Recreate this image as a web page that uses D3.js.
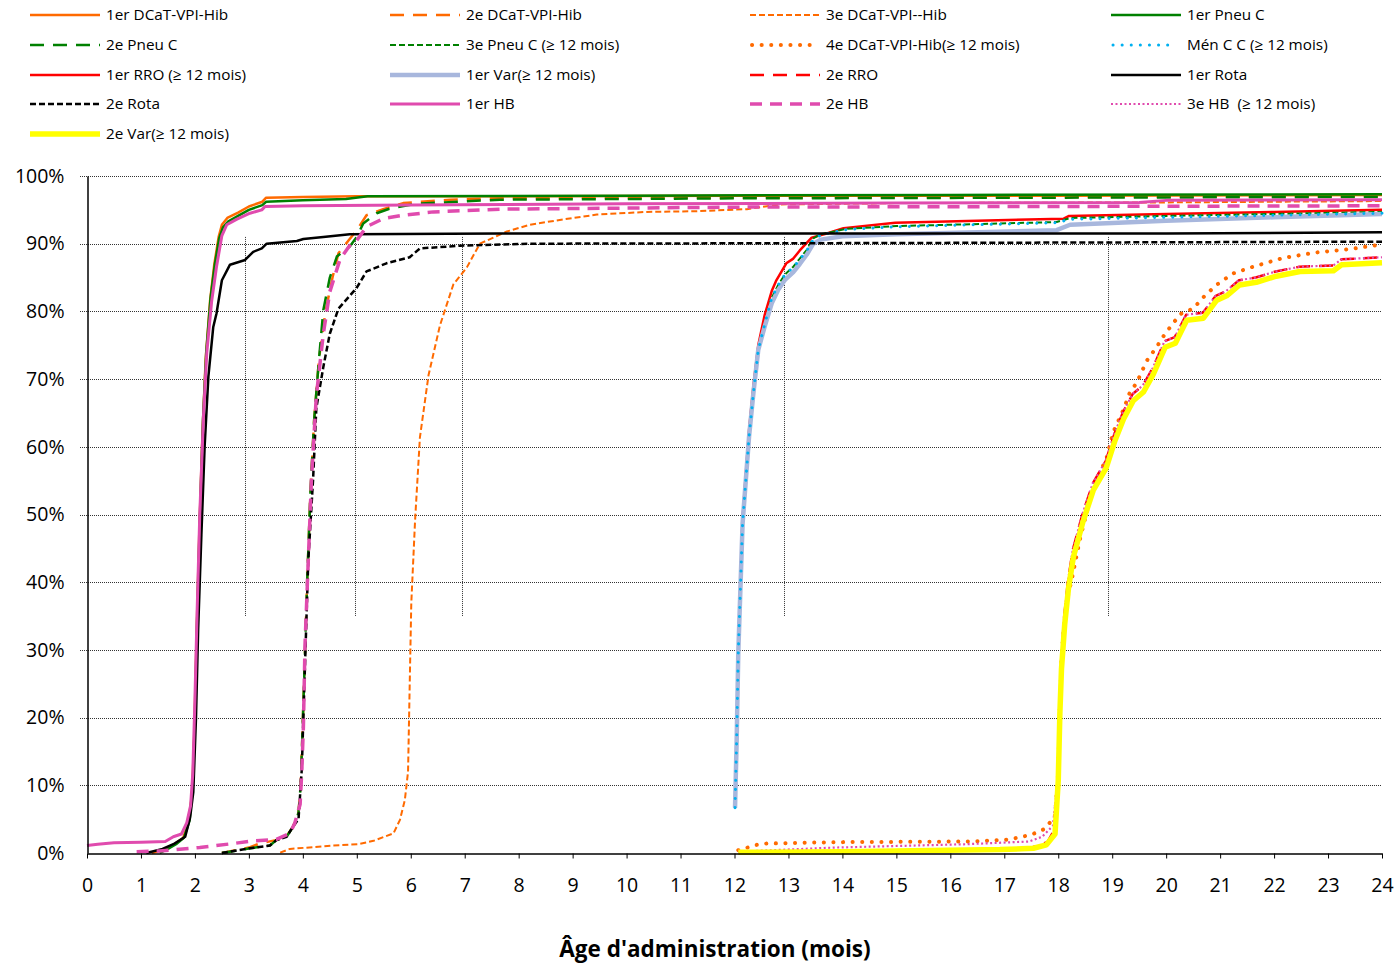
<!DOCTYPE html>
<html><head><meta charset="utf-8">
<script src="https://cdn.jsdelivr.net/npm/d3@7"></script>
<style>body{margin:0;background:#fff}svg{display:block;font-family:"Open Sans","Noto Sans",sans-serif}</style>
</head><body><svg id="c" width="1398" height="966"></svg>
<script>
// ---------- data ----------
const xTicks = d3.range(0, 25);
const yTicks = [0, 10, 20, 30, 40, 50, 60, 70, 80, 90, 100];
const refLineMonths = [2.93, 4.97, 6.95, 12.92, 18.92];
const refLineSpan = [35, 91];
const xTitle = "Âge d'administration (mois)";

const dcat1 = [[1.2,0],[1.45,0.6],[1.6,1.2],[1.78,2.2],[1.88,4.5],[1.95,9],[1.99,18],[2.03,32],[2.08,47],[2.14,62],[2.2,73],[2.28,81.5],[2.36,87],[2.44,91],[2.5,92.8],[2.6,93.8],[2.8,94.6],[3.0,95.5],[3.25,96.2],[3.32,96.8],[4,96.9],[5,97.0],[8,97.0],[12,97.1],[18,97.1],[24,97.2]];
const dcat2 = [[2.5,0],[3.0,0.8],[3.2,1.4],[3.5,1.9],[3.7,2.5],[3.82,3.9],[3.92,6],[3.96,10],[3.99,17],[4.03,27],[4.08,40],[4.14,53],[4.21,64],[4.3,73],[4.42,80],[4.55,85],[4.66,88.6],[4.85,90.5],[5.0,92.0],[5.18,94.2],[5.49,95.1],[5.86,96.0],[6.73,96.5],[7.65,96.7],[12,96.8],[24,97.0]];
const dcat3 = [[3.58,0.05],[3.76,0.6],[4.56,1.1],[5.03,1.3],[5.31,1.8],[5.68,2.9],[5.8,4.9],[5.89,7.8],[5.95,12],[5.98,24.6],[6.01,36.9],[6.08,49.1],[6.17,61.4],[6.33,70.6],[6.54,77.9],[6.79,84.0],[7.04,86.5],[7.28,90.0],[7.78,91.8],[8.21,92.8],[8.83,93.6],[9.45,94.3],[10.37,94.7],[11.3,94.8],[12.23,95.1],[12.84,95.8],[15,96.0],[20,96.1],[24,96.3]];
const pneu1 = [[1.35,0],[1.5,0.6],[1.65,1.3],[1.8,2.3],[1.9,4.8],[1.96,10],[2.0,20],[2.04,34],[2.09,49],[2.15,64],[2.21,74],[2.29,82],[2.37,87],[2.45,90.8],[2.52,92.4],[2.62,93.3],[2.8,94.1],[3.0,95.0],[3.25,95.7],[3.32,96.2],[4,96.4],[4.8,96.6],[5.2,97.0],[10,97.1],[16,97.2],[24,97.3]];
const pneu2 = [[2.5,0],[3.02,0.7],[3.39,1.1],[3.51,1.9],[3.7,2.4],[3.82,3.9],[3.92,5.9],[3.96,10],[3.99,17],[4.03,27],[4.08,40],[4.14,53],[4.21,64],[4.3,73],[4.38,80.2],[4.5,85],[4.63,88.1],[4.87,89.6],[5.0,91.0],[5.12,93.0],[5.37,94.5],[5.62,95.2],[6.11,95.9],[7.65,96.5],[12,96.7],[24,96.9]];
const pneu3 = [[12.01,6.7],[12.04,16.6],[12.07,29.5],[12.11,39.1],[12.15,48.7],[12.21,55.1],[12.27,61.5],[12.35,67.9],[12.44,74.3],[12.56,78.1],[12.69,82.0],[12.81,83.9],[12.94,85.5],[13.09,86.6],[13.21,87.8],[13.34,89.1],[13.46,90.8],[13.6,91.4],[14.08,92.2],[15,92.6],[17.97,93.2],[18.22,93.8],[20,94.1],[24,94.7]];
const dcat4 = [[12.07,0.4],[12.41,1.2],[12.6,1.4],[13.85,1.6],[16.4,1.7],[17.1,2.0],[17.5,2.7],[17.76,3.6],[17.94,5.5],[18.0,12],[18.03,22],[18.07,30],[18.15,37],[18.25,40.4],[18.40,46.3],[18.59,52.3],[18.77,56.2],[18.89,58.2],[19.02,62.2],[19.21,65.5],[19.33,68.1],[19.45,69.4],[19.64,72.7],[19.82,74.7],[19.98,76.7],[20.26,79.6],[20.5,80.4],[20.69,82.1],[20.93,83.9],[21.24,85.6],[21.61,86.6],[22.17,87.9],[22.78,88.7],[23.4,89.2],[24,89.9]];
const menCC = [[12.01,6.7],[12.04,16.6],[12.07,29.5],[12.11,39.1],[12.15,48.7],[12.21,55.1],[12.27,61.5],[12.35,67.9],[12.44,74.3],[12.56,78.1],[12.69,82.0],[12.81,83.9],[12.94,85.5],[13.09,86.5],[13.21,87.7],[13.34,89.0],[13.46,90.6],[13.6,91.3],[14.08,92.1],[15,92.5],[17.97,93.1],[18.22,93.6],[20,93.9],[22,94.2],[24,94.5]];
const rro1 = [[12.01,6.7],[12.04,16.8],[12.07,30],[12.11,40],[12.15,49.5],[12.21,56],[12.27,62.5],[12.35,69],[12.44,75],[12.56,79.5],[12.69,83],[12.77,84.5],[12.96,87.1],[13.09,87.8],[13.21,89.0],[13.43,90.9],[13.71,91.5],[14.02,92.3],[14.98,93.1],[18.1,93.7],[18.2,94.1],[20,94.4],[22,94.7],[24,95.0]];
const var1 = [[12.01,6.7],[12.04,16.6],[12.07,29.5],[12.11,39.1],[12.15,48.7],[12.21,55.1],[12.27,61.5],[12.35,67.9],[12.44,74.3],[12.56,77.8],[12.69,81.2],[12.81,83.2],[12.94,84.7],[13.09,85.8],[13.21,87.0],[13.34,88.4],[13.46,90.0],[13.6,90.6],[14.0,91.1],[15,91.4],[17.97,92.0],[18.22,92.8],[20,93.4],[22,93.9],[24,94.4]];
const rro2 = [[16.9,0.4],[17.5,0.8],[17.8,1.6],[17.93,3.5],[17.99,10],[18.02,21],[18.05,28],[18.11,35],[18.18,40.2],[18.27,44.8],[18.45,50.1],[18.64,54.6],[18.88,57.9],[19.04,61.9],[19.2,65.1],[19.38,67.8],[19.57,69.1],[19.75,71.6],[19.97,75.6],[20.16,76.2],[20.37,79.5],[20.68,79.8],[20.92,82.3],[21.11,83.0],[21.35,84.6],[21.66,85.0],[22.03,85.9],[22.47,86.6],[23.1,86.8],[23.25,87.7],[24,88.0]];
const rota1 = [[1.1,0],[1.4,0.6],[1.6,1.3],[1.82,2.4],[1.91,5.2],[1.97,9],[2.02,20],[2.06,33],[2.12,47],[2.18,60],[2.22,66],[2.25,70.4],[2.34,77.7],[2.40,79.7],[2.5,84.6],[2.65,86.9],[2.93,87.6],[3.08,88.8],[3.24,89.3],[3.33,90.0],[3.89,90.4],[4.01,90.7],[4.38,91.0],[4.87,91.4],[7.65,91.5],[15,91.5],[20,91.5],[24,91.7]];
const rota2 = [[2.5,0],[3.02,0.7],[3.39,1.1],[3.51,1.9],[3.7,2.4],[3.82,3.9],[3.92,5.0],[3.98,12.3],[4.04,27.7],[4.10,43],[4.19,55.2],[4.25,65.7],[4.38,71.8],[4.50,76.7],[4.66,80.4],[5.0,83.5],[5.18,85.9],[5.55,87.1],[5.98,88.0],[6.17,89.3],[6.91,89.7],[8.21,90.0],[15,90.1],[24,90.3]];
const hb1 = [[0,1.1],[0.2,1.3],[0.5,1.5],[1.0,1.6],[1.45,1.7],[1.6,2.4],[1.75,2.8],[1.85,4.5],[1.92,7],[1.96,11.7],[2.0,22.6],[2.04,35.4],[2.09,50],[2.16,64.8],[2.22,73.9],[2.31,81.5],[2.40,86.6],[2.5,91.2],[2.59,92.8],[2.77,93.6],[3.02,94.5],[3.24,95.0],[3.3,95.5],[4,95.6],[6,95.7],[10,95.9],[15,96.0],[19.5,96.1],[20,96.4],[24,96.5]];
const hb2 = [[0.92,0.2],[1.35,0.3],[2.09,0.8],[2.71,1.4],[3.08,1.8],[3.51,2.0],[3.76,2.9],[3.85,4.4],[3.95,7.2],[3.98,12],[4.01,18.5],[4.04,30.7],[4.10,43],[4.16,55.2],[4.25,67.5],[4.38,76.7],[4.5,82.9],[4.69,87.7],[4.91,90.2],[5.0,90.5],[5.18,92.5],[5.49,93.7],[5.86,94.2],[6.42,94.7],[7.65,95.1],[12,95.4],[18,95.5],[24,95.6]];
const hb3 = [[12.07,0.2],[13.85,0.8],[16.3,1.3],[17.46,1.7],[17.7,2.4],[17.9,4],[17.98,10],[18.02,21],[18.05,28],[18.11,35],[18.18,40.2],[18.27,44.8],[18.45,50.1],[18.64,54.6],[18.88,57.9],[19.04,61.9],[19.2,65.1],[19.38,67.8],[19.57,69.1],[19.75,71.6],[19.97,75.6],[20.16,76.2],[20.37,79.5],[20.68,79.8],[20.92,82.3],[21.11,83.0],[21.35,84.6],[21.66,85.0],[22.03,85.9],[22.47,86.6],[23.1,86.8],[23.25,87.7],[24,88.0]];
const var2 = [[12.07,0.1],[14,0.2],[16.92,0.5],[17.54,0.7],[17.78,1.2],[17.94,2.8],[18.0,10.7],[18.03,20.6],[18.06,27.2],[18.12,33.8],[18.19,39.1],[18.28,43.7],[18.46,49.0],[18.65,53.6],[18.89,56.9],[19.05,60.9],[19.21,64.1],[19.39,66.8],[19.58,68.1],[19.76,70.7],[19.98,74.7],[20.17,75.3],[20.38,78.7],[20.69,79.0],[20.93,81.6],[21.12,82.3],[21.36,83.9],[21.67,84.3],[22.04,85.2],[22.48,85.9],[23.1,86.0],[23.25,86.9],[24,87.2]];

const seriesNames = ["1er DCaT-VPI-Hib","2e DCaT-VPI-Hib","3e DCaT-VPI--Hib","1er Pneu C","2e Pneu C","3e Pneu C (≥ 12 mois)","4e DCaT-VPI-Hib(≥ 12 mois)","Mén C C (≥ 12 mois)","1er RRO (≥ 12 mois)","1er Var(≥ 12 mois)","2e RRO","1er Rota","2e Rota","1er HB","2e HB","3e HB  (≥ 12 mois)","2e Var(≥ 12 mois)"];
const seriesData = [dcat1,dcat2,dcat3,pneu1,pneu2,pneu3,dcat4,menCC,rro1,var1,rro2,rota1,rota2,hb1,hb2,hb3,var2];

// ---------- styles ----------
const OR="#FF6A00", GR="#008000", RD="#FF0000", BK="#000000", PK="#E04BAE";
const styles = [
  {c:OR,w:2.5},{c:OR,w:2.5,d:"14,9"},{c:OR,w:2,d:"6,3"},
  {c:GR,w:2.5},{c:GR,w:2.5,d:"14,9"},{c:GR,w:2,d:"6,3"},
  {c:OR,w:4,d:"0.1,9.5",cap:"round"},{c:"#00B0F0",w:3,d:"0.1,9",cap:"round"},
  {c:RD,w:2.5},{c:"#A8B7DD",w:4.5},{c:RD,w:2.5,d:"14,9"},
  {c:BK,w:2.5},{c:BK,w:2.5,d:"6,3"},
  {c:PK,w:3},{c:PK,w:3.5,d:"12,8"},{c:PK,w:2.2,d:"2,2.5"},
  {c:"#FFFF00",w:5.5}
];
const drawOrder = [0,1,2,3,4,6,8,5,9,7,10,11,12,13,14,15,16];

// ---------- chart ----------
const svg = d3.select("#c");
const x = d3.scaleLinear().domain([0,24]).range([87,1382]);
const y = d3.scaleLinear().domain([0,100]).range([853,176]);

// gridlines
svg.append("g").selectAll("line").data(yTicks.filter(t=>t>0)).join("line")
  .attr("x1",80).attr("x2",1382)
  .attr("y1",d=>Math.round(y(d))+0.5).attr("y2",d=>Math.round(y(d))+0.5)
  .attr("stroke","#333").attr("stroke-width",1).attr("stroke-dasharray","1,1");

// reference vertical lines
svg.append("g").selectAll("line").data(refLineMonths).join("line")
  .attr("x1",d=>Math.round(x(d))+0.5).attr("x2",d=>Math.round(x(d))+0.5)
  .attr("y1",y(refLineSpan[1])).attr("y2",y(refLineSpan[0]))
  .attr("stroke","#333").attr("stroke-width",1).attr("stroke-dasharray","1,1");

// series
const line = d3.line().x(d=>x(d[0])).y(d=>y(d[1]));
const gS = svg.append("g");
drawOrder.forEach(i=>{
  const s = styles[i];
  gS.append("path").attr("d", line(seriesData[i]))
    .attr("fill","none").attr("stroke",s.c).attr("stroke-width",s.w)
    .attr("stroke-dasharray",s.d||null).attr("stroke-linecap",s.cap||"butt")
    .attr("stroke-linejoin","round");
});

// x axis
const gx = svg.append("g").attr("transform","translate(0,853.5)")
  .call(d3.axisBottom(x).tickValues(xTicks).tickFormat(d3.format("d")).tickSize(5).tickSizeOuter(0).tickPadding(20));
gx.select(".domain").attr("stroke","#000").attr("stroke-width",1.5);
gx.selectAll(".tick line").attr("stroke","#000");
gx.selectAll("text").attr("font-size",19.5).attr("fill","#000").attr("font-family","Open Sans");

// y axis
const gy = svg.append("g").attr("transform","translate(87.5,0)")
  .call(d3.axisLeft(y).tickValues(yTicks).tickFormat(d=>d+"%").tickSize(0).tickSizeOuter(0).tickPadding(23));
gy.select(".domain").attr("stroke","#000").attr("stroke-width",1.5);
gy.selectAll("text").attr("font-size",19.5).attr("fill","#000").attr("font-family","Open Sans");

// title
svg.append("text").attr("x",715).attr("y",957).attr("text-anchor","middle")
  .attr("font-size",22.5).attr("font-weight","bold").attr("fill","#000").text(xTitle);

// legend
const legLineX = [30,390,750,1111];
const legTextX = [106,466,826,1187];
const legRowY = [15,45,75,104,134];
const gL = svg.append("g");
seriesNames.forEach((name,i)=>{
  const col=i%4, row=Math.floor(i/4), s=styles[i];
  const yy = legRowY[row];
  const x0 = legLineX[col] + (s.cap?2:0), x1 = legLineX[col]+70 - (s.cap?6:0);
  gL.append("line").attr("x1",x0).attr("x2",x1).attr("y1",yy).attr("y2",yy)
    .attr("stroke",s.c).attr("stroke-width",s.w).attr("stroke-dasharray",s.d||null)
    .attr("stroke-linecap",s.cap||"butt");
  gL.append("text").attr("x",legTextX[col]).attr("y",yy).attr("dy","0.35em")
    .attr("font-size",15.3).attr("fill","#000").attr("xml:space","preserve").style("white-space","pre").text(name);
});
</script>
</body></html>
